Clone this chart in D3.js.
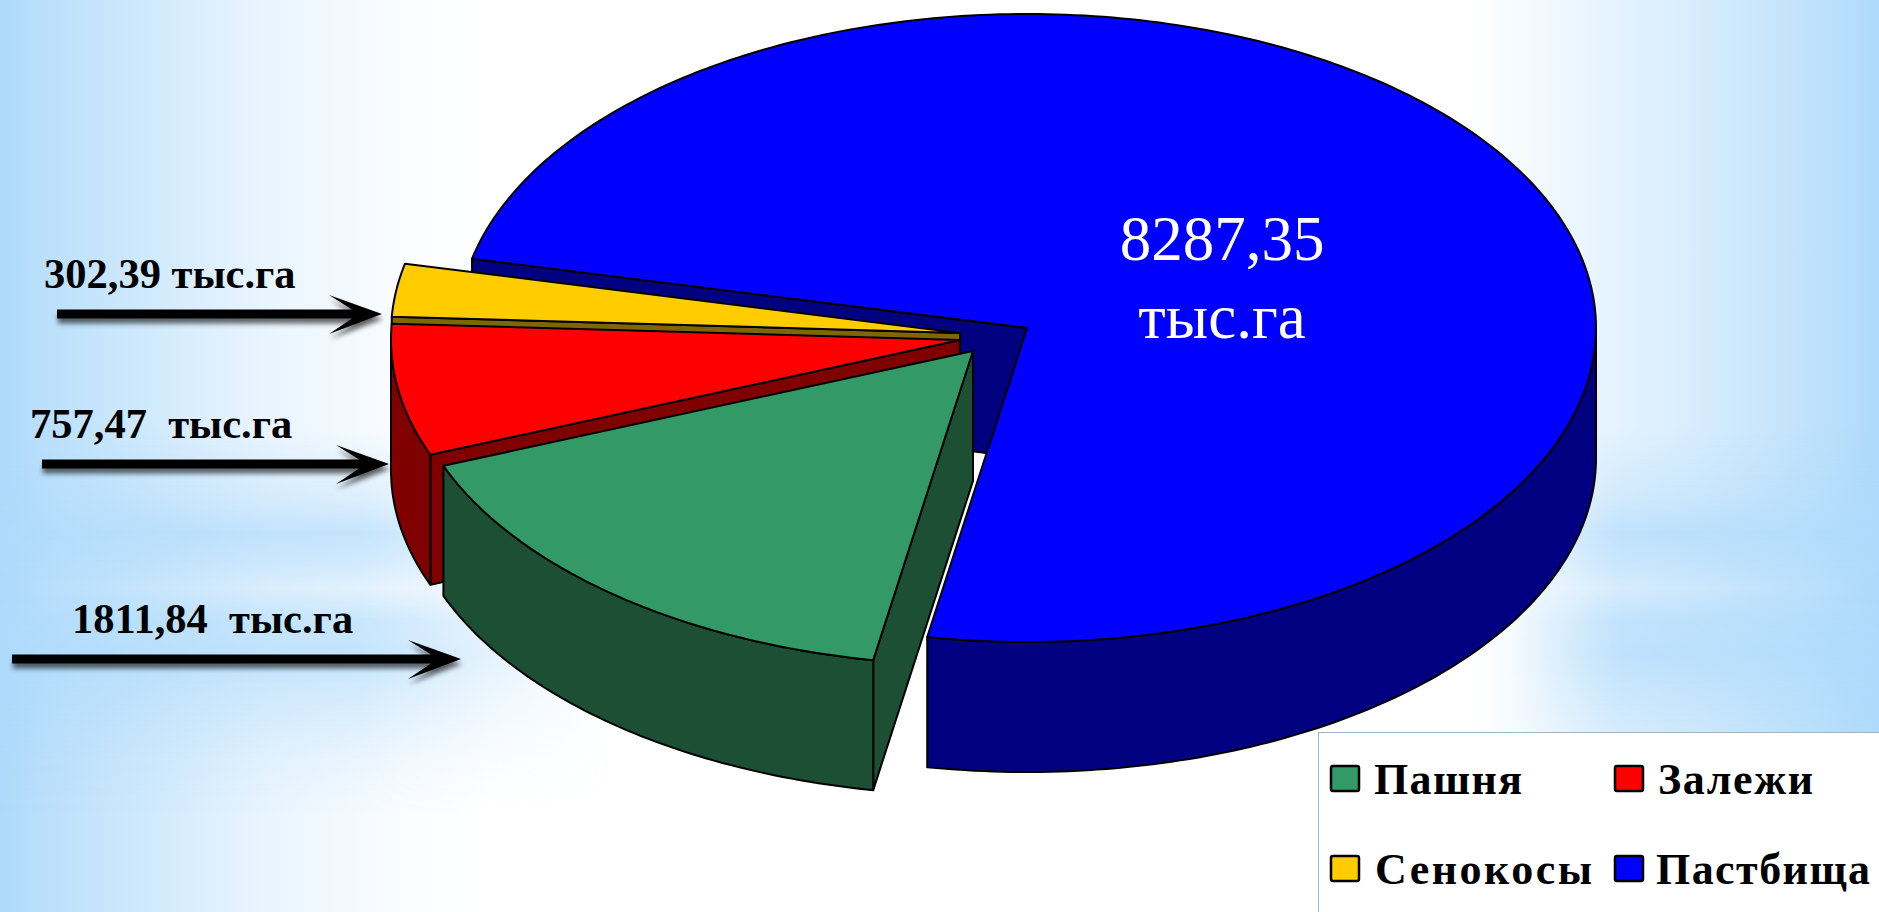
<!DOCTYPE html>
<html><head><meta charset="utf-8"><title>Land use pie</title>
<script src="https://cdn.jsdelivr.net/npm/d3@7"></script>
<style>html,body{margin:0;padding:0;background:#fff;overflow:hidden}svg{display:block}text{white-space:pre}</style>
</head><body><div id="c"></div>
<script>
// Data
const categories = ["Пашня", "Залежи", "Сенокосы", "Пастбища"];
const values = [1811.84, 757.47, 302.39, 8287.35];
const colors = ["#339966", "#ff0000", "#ffcc00", "#0000ff"];
const sideColors = ["#1c4f33", "#800000", "#806600", "#000080"];
const valueLabels = ["1811,84  тыс.га", "757,47  тыс.га", "302,39 тыс.га"];
const mainLabel = ["8287,35", "тыс.га"];

const W = 1879, H = 912;
const svg = d3.select("#c").append("svg").attr("width", W).attr("height", H);
const defs = svg.append("defs");

// ---- background ----
function grad(id, horizontal, stops) {
  const g = defs.append("linearGradient").attr("id", id).attr("gradientUnits", "userSpaceOnUse")
    .attr("x1", 0).attr("y1", 0).attr("x2", horizontal ? W : 0).attr("y2", horizontal ? 0 : H);
  stops.forEach(s => g.append("stop").attr("offset", s[0] / (horizontal ? W : H)).attr("stop-color", s[1]).attr("stop-opacity", s[2]));
}
const sky = "#aedafb";
grad("bgL", true, [[0, sky, 1], [60, sky, 0.8], [133, sky, 0.62], [267, sky, 0.27], [400, sky, 0.07], [490, sky, 0]]);
grad("bgR", true, [[1470, sky, 0], [1600, sky, 0.3], [1700, sky, 0.5], [1800, sky, 0.76], [1879, sky, 1]]);
const bandStops = [[430, sky, 0], [500, sky, 0.35], [533, sky, 0.68], [565, sky, 0.48], [588, sky, 0.25], [620, sky, 0.62], [655, sky, 0.68], [700, sky, 0.42], [760, sky, 0.14], [815, sky, 0]];
grad("bgB", false, bandStops);
grad("fade", true, [[0, "#fff", 1], [360, "#fff", 1], [620, "#fff", 0], [1510, "#fff", 0], [1620, "#fff", 1], [1879, "#fff", 1]]);
defs.append("mask").attr("id", "bandMask").attr("maskUnits", "userSpaceOnUse")
  .attr("x", 0).attr("y", 0).attr("width", W).attr("height", H)
  .append("rect").attr("width", W).attr("height", H).attr("fill", "url(#fade)");
svg.append("rect").attr("width", W).attr("height", H).attr("fill", "#fff");
svg.append("rect").attr("width", W).attr("height", H).attr("fill", "url(#bgL)");
svg.append("rect").attr("width", W).attr("height", H).attr("fill", "url(#bgR)");
svg.append("rect").attr("width", W).attr("height", H).attr("fill", "url(#bgB)").attr("mask", "url(#bandMask)");

// ---- pie ----
const rx = 569, ry = 314, depth = 130;
const toRad = d => d * Math.PI / 180;
const pie = d3.pie().sort(null).startAngle(toRad(190.1)).endAngle(toRad(550.1));
const arcs = pie(values);
const apexes = [[973, 351], [960, 340], [960, 333], [1027, 328]];
const px = (c, a, dy = 0) => [c[0] + rx * Math.sin(a), c[1] - ry * Math.cos(a) + dy];
const line = d3.line();
const sweep = (c, a0, a1, dy = 0) => {
  const n = Math.max(2, Math.ceil(Math.abs(a1 - a0) * 60));
  return d3.range(n + 1).map(i => px(c, a0 + (a1 - a0) * i / n, dy));
};
const faces = svg.append("g").attr("stroke", "#000").attr("stroke-width", 2).attr("stroke-linejoin", "round");
const poly = (pts, fill) => faces.append("path").attr("d", line(pts) + "Z").attr("fill", fill);

[3, 2, 1, 0].forEach(i => {
  const { startAngle: s, endAngle: e } = arcs[i];
  const c = apexes[i];
  // radial wall on the slice's starting edge
  const head = px(c, s);
  poly([c, head, [head[0], head[1] + depth], [c[0], c[1] + depth]], sideColors[i]);
  // outer wall: only the part of the rim that faces the viewer
  [[toRad(90), toRad(270)], [toRad(450), toRad(630)]].forEach(r => {
    const a0 = Math.max(s, r[0]), a1 = Math.min(e, r[1]);
    if (a1 > a0) poly(sweep(c, a0, a1).concat(sweep(c, a1, a0, depth)), sideColors[i]);
  });
  // top face
  poly([c].concat(sweep(c, s, e)), colors[i]);
});

// ---- arrows with soft shadows ----
defs.append("filter").attr("id", "soft").attr("x", "-5%").attr("y", "-50%").attr("width", "110%").attr("height", "200%")
  .append("feGaussianBlur").attr("stdDeviation", 2.5);
const arrowAnchors = [[57, 382, 314], [42, 389, 464], [12, 461, 659]];
const arrowShape = a => {
  const [x0, tip, y] = a;
  return line([[x0, y - 4.5], [tip - 30, y - 4.5], [tip - 53, y - 19], [tip, y], [tip - 53, y + 20], [tip - 30, y + 4.5], [x0, y + 4.5]]) + "Z";
};
const arrows = svg.append("g");
arrowAnchors.forEach(a => {
  arrows.append("path").attr("d", arrowShape(a)).attr("fill", "#000").attr("opacity", 0.6)
    .attr("transform", "translate(1,5)").attr("filter", "url(#soft)");
  arrows.append("path").attr("d", arrowShape(a)).attr("fill", "#000");
});

// ---- labels ----
const serif = "'Liberation Serif','Times New Roman',serif";
const labelPos = [[72, 633], [30, 438], [44, 288]];
svg.append("g").selectAll("text").data(valueLabels).join("text")
  .attr("x", (d, i) => labelPos[i][0]).attr("y", (d, i) => labelPos[i][1])
  .attr("font-family", serif).attr("font-weight", "bold").attr("font-size", 42.5).attr("fill", "#000")
  .text(d => d);
svg.append("g").selectAll("text").data(mainLabel).join("text")
  .attr("x", 1222).attr("y", (d, i) => [260, 338][i]).attr("text-anchor", "middle")
  .attr("font-family", serif).attr("font-size", 63).attr("fill", "#fff").text(d => d);

// ---- legend ----
const lg = svg.append("g");
lg.append("rect").attr("x", 1318.5).attr("y", 732.5).attr("width", 600).attr("height", 300)
  .attr("fill", "#fff").attr("stroke", "#9fb6c6").attr("stroke-width", 1);
const legendCells = [[1331, 766, 1374, 794, 148], [1615, 766, 1658, 794, 155], [1331, 856, 1375, 884, 217], [1615, 856, 1656, 884, 214]];
categories.forEach((name, i) => {
  const [sx, sy, tx, ty, tw] = legendCells[i];
  lg.append("rect").attr("x", sx).attr("y", sy).attr("width", 28).attr("height", 25).attr("rx", 2)
    .attr("fill", colors[i]).attr("stroke", "#000").attr("stroke-width", 2.5);
  lg.append("text").attr("x", tx).attr("y", ty).attr("font-family", serif).attr("font-weight", "bold")
    .attr("font-size", 44).attr("textLength", tw).attr("lengthAdjust", "spacing").text(name);
});
</script></body></html>
